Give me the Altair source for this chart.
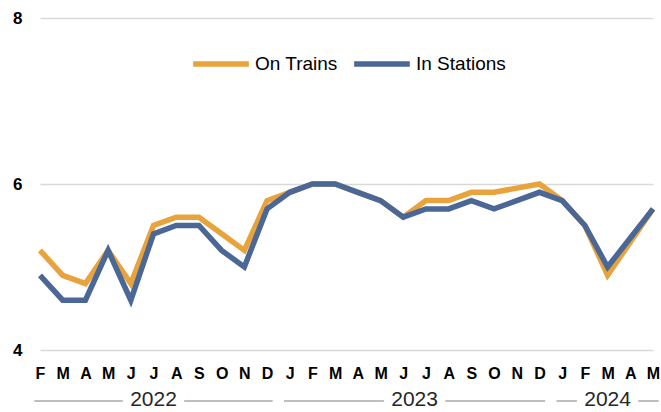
import altair as alt
import pandas as pd

months = ["F", "M", "A", "M", "J", "J", "A", "S", "O", "N", "D",
          "J", "F", "M", "A", "M", "J", "J", "A", "S", "O", "N", "D",
          "J", "F", "M", "A", "M"]
years = ["2022", "2023", "2024"]
year_counts = [11, 12, 5]
on_trains = [5.2, 4.9, 4.8, 5.2, 4.8, 5.5, 5.6, 5.6, 5.4, 5.2, 5.8,
             5.9, 6.0, 6.0, 5.9, 5.8, 5.6, 5.8, 5.8, 5.9, 5.9, 5.95, 6.0,
             5.8, 5.5, 4.9, 5.3, 5.7]
in_stations = [4.9, 4.6, 4.6, 5.2, 4.6, 5.4, 5.5, 5.5, 5.2, 5.0, 5.7,
               5.9, 6.0, 6.0, 5.9, 5.8, 5.6, 5.7, 5.7, 5.8, 5.7, 5.8, 5.9,
               5.8, 5.5, 5.0, 5.35, 5.7]
series = ["On Trains", "In Stations"]
colors = ["#E9A33C", "#4A6796"]

FONT = "Liberation Sans"

rows = []
for i in range(len(months)):
    rows.append({"i": i, "series": series[0], "v": on_trains[i]})
    rows.append({"i": i, "series": series[1], "v": in_stations[i]})
df = pd.DataFrame(rows)

# year group lines and labels
gap = 0.25
half = 1.35
seg_rows, txt_rows = [], []
start = 0
for y, n in zip(years, year_counts):
    end = start + n - 1
    c = (start + end) / 2
    seg_rows.append({"a": start - 0.5 + gap, "b": c - half})
    seg_rows.append({"a": c + half, "b": end + 0.5 - gap})
    txt_rows.append({"c": c, "year": y})
    start = end + 1
seg_df = pd.DataFrame(seg_rows)
txt_df = pd.DataFrame(txt_rows)

label_arr = "[" + ",".join("'" + m + "'" for m in months) + "]"

xscale = alt.Scale(domain=[0, len(months) - 1], nice=False, zero=False)
xaxis = alt.Axis(values=list(range(len(months))), labelExpr=label_arr + "[datum.value]",
                 title=None, ticks=False, domain=False, grid=False,
                 labelFont=FONT, labelFontSize=16, labelFontWeight="bold",
                 labelColor="#000000", labelPadding=15, labelFlush=False,
                 labelOverlap=False)

lines = alt.Chart(df).mark_line(strokeWidth=5.5, strokeJoin="miter").encode(
    x=alt.X("i:Q", scale=xscale, axis=xaxis),
    y=alt.Y("v:Q", scale=alt.Scale(domain=[4, 8], nice=False, zero=False),
            axis=alt.Axis(values=[4, 6, 8], title=None, ticks=False, domain=False,
                          grid=True, gridColor="#D9D9D9", gridWidth=1.5,
                          labelFont=FONT, labelFontSize=17, labelFontWeight="bold",
                          labelColor="#000000", labelPadding=18)),
    color=alt.Color("series:N", sort=series,
                    scale=alt.Scale(domain=series, range=colors),
                    legend=alt.Legend(title=None, orient="none", direction="horizontal",
                                      legendX=150, legendY=15,
                                      symbolType="stroke", symbolSize=3100,
                                      symbolStrokeWidth=5.5, labelFont=FONT,
                                      labelFontSize=19, labelColor="#000000",
                                      labelOffset=3, columnPadding=5)),
    order=alt.Order("series:N", sort="descending"),
    detail="series:N",
)

segs = alt.Chart(seg_df).mark_rule(color="#7F7F7F", strokeWidth=1, clip=False).encode(
    x=alt.X("a:Q", scale=xscale, axis=xaxis),
    x2="b:Q",
    y=alt.value(383),
)

txt = alt.Chart(txt_df).mark_text(font=FONT, fontSize=21, color="#262626",
                                  baseline="middle", align="center", clip=False).encode(
    x=alt.X("c:Q", scale=xscale, axis=xaxis),
    y=alt.value(382),
    text="year:N",
)

chart = alt.layer(lines, segs, txt).properties(
    width=613, height=332,
    autosize=alt.AutoSizeParams(type="none"),
    padding={"left": 40, "top": 18, "right": 8, "bottom": 62},
).configure_view(stroke=None)

chart.save("out.html", embed_options={"renderer": "svg", "actions": False})
